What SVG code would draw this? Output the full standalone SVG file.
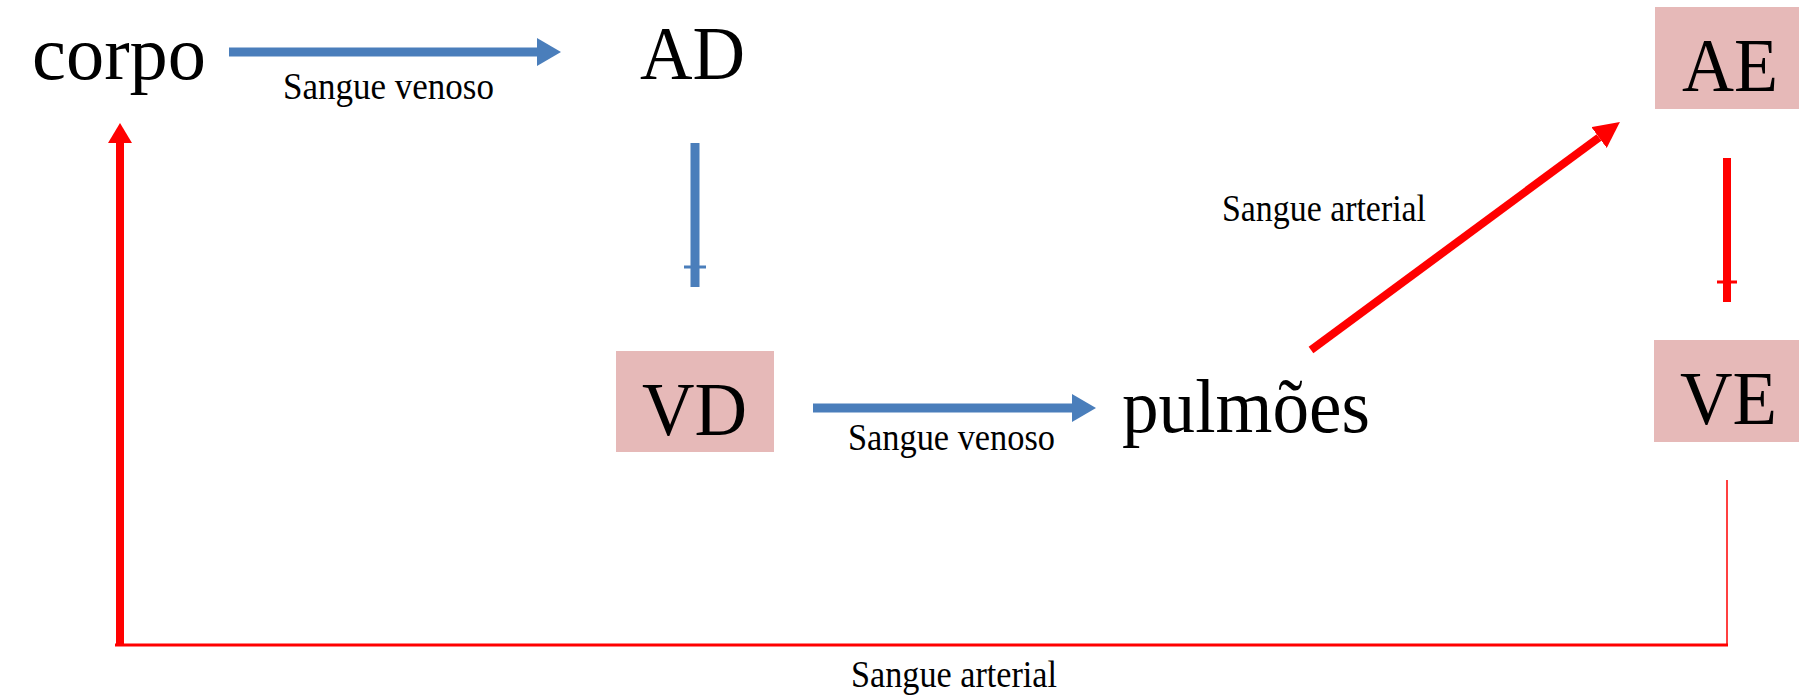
<svg xmlns="http://www.w3.org/2000/svg" width="1799" height="696" viewBox="0 0 1799 696">
<style>
.big{font-family:"Liberation Serif","Times New Roman",serif;font-size:77px;fill:#000}
.lbl{font-family:"Liberation Serif","Times New Roman",serif;font-size:37px;fill:#000}
.box{fill:#e6b9b8}
.blue{stroke:#4a7ebb;stroke-width:9;fill:none}
.red{stroke:#ff0000;stroke-width:8;fill:none}
.thin{stroke:#ff0000;fill:none}
</style>
<defs>
<marker id="hb" markerUnits="userSpaceOnUse" viewBox="0 0 24 28" refX="0" refY="14" markerWidth="24" markerHeight="28" orient="auto">
<path d="M0,0 L24,14 L0,28 Z" fill="#4a7ebb"/>
</marker>
<marker id="hr" markerUnits="userSpaceOnUse" viewBox="0 0 26 26" refX="0" refY="13" markerWidth="26" markerHeight="26" orient="auto">
<path d="M0,0 L26,13 L0,26 Z" fill="#ff0000"/>
</marker>
<marker id="hr2" markerUnits="userSpaceOnUse" viewBox="0 0 20 24" refX="0" refY="12" markerWidth="20" markerHeight="24" orient="auto">
<path d="M0,0 L20,12 L0,24 Z" fill="#ff0000"/>
</marker>
</defs>
<rect width="1799" height="696" fill="#fff"/>
<g id="connectors">
<line class="blue" x1="229" y1="52" x2="537" y2="52" marker-end="url(#hb)"/>
<text class="lbl" x="283" y="99" textLength="211" lengthAdjust="spacingAndGlyphs">Sangue venoso</text>
<line class="blue" x1="695" y1="143" x2="695" y2="287"/>
<rect x="684" y="265.5" width="22" height="3" fill="#4a7ebb"/>
<line class="blue" x1="813" y1="408" x2="1072" y2="408" marker-end="url(#hb)"/>
<text class="lbl" x="848" y="450" textLength="207" lengthAdjust="spacingAndGlyphs">Sangue venoso</text>
<line class="red" x1="1311" y1="350" x2="1599" y2="137.5" marker-end="url(#hr)"/>
<text class="lbl" x="1222" y="221" textLength="204" lengthAdjust="spacingAndGlyphs">Sangue arterial</text>
<line class="red" x1="1727" y1="158" x2="1727" y2="302"/>
<rect x="1717" y="280.5" width="20" height="3" fill="#ff0000"/>
<polyline class="thin" stroke-width="1.5" points="1727,480 1727,645"/>
<line class="thin" stroke-width="3" x1="115" y1="645" x2="1728" y2="645"/>
<line class="red" stroke-width="7" x1="120" y1="646" x2="120" y2="143" marker-end="url(#hr2)"/>
<text class="lbl" x="851" y="687" textLength="206" lengthAdjust="spacingAndGlyphs">Sangue arterial</text>
</g>
<g id="node-corpo">
<text class="big" x="32" y="79" textLength="174" lengthAdjust="spacingAndGlyphs">corpo</text>
</g>
<g id="node-AD">
<text class="big" x="640" y="79" textLength="105" lengthAdjust="spacingAndGlyphs">AD</text>
</g>
<g id="node-VD">
<rect class="box" x="616" y="351" width="158" height="101"/>
<text class="big" x="642" y="435" textLength="105" lengthAdjust="spacingAndGlyphs">VD</text>
</g>
<g id="node-pulmoes">
<text class="big" x="1122" y="432" textLength="248" lengthAdjust="spacingAndGlyphs">pulmões</text>
</g>
<g id="node-AE">
<rect class="box" x="1655" y="7" width="144" height="102"/>
<text class="big" x="1682" y="91" textLength="96" lengthAdjust="spacingAndGlyphs">AE</text>
</g>
<g id="node-VE">
<rect class="box" x="1654" y="340" width="145" height="102"/>
<text class="big" x="1680" y="424" textLength="97" lengthAdjust="spacingAndGlyphs">VE</text>
</g>
</svg>
